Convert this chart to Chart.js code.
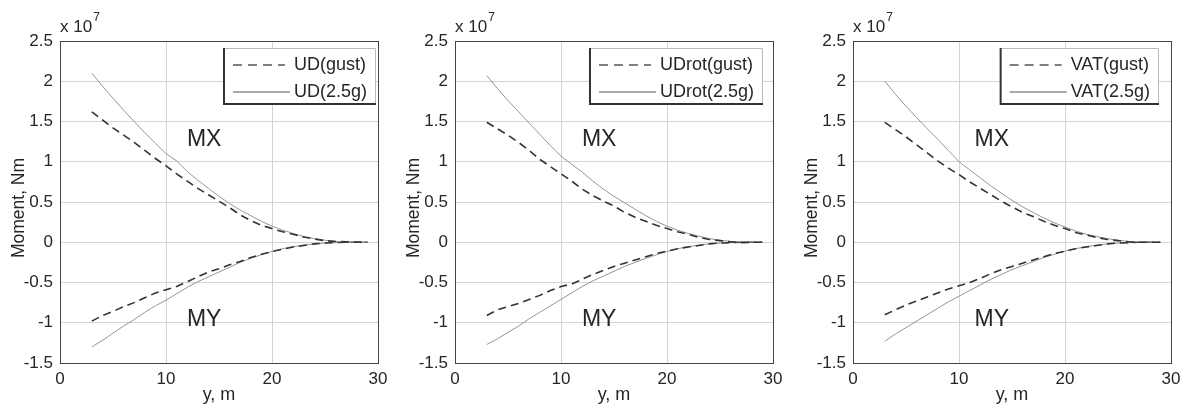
<!DOCTYPE html>
<html>
<head>
<meta charset="utf-8">
<script src="https://cdn.jsdelivr.net/npm/chart.js@4/dist/chart.umd.min.js"></script>
<style>
  html, body { margin: 0; padding: 0; background: #fff; }
  #wrap { position: relative; width: 1187px; height: 411px; overflow: hidden; }
  .panel { position: absolute; top: 0; width: 390px; height: 411px; }
</style>
</head>
<body>
<div id="wrap">
  <div class="panel" style="left:0px"><canvas id="c1"></canvas></div>
  <div class="panel" style="left:395px"><canvas id="c2"></canvas></div>
  <div class="panel" style="left:793px"><canvas id="c3"></canvas></div>
</div>
<script>
/* --- data (moments in units of 1e7 Nm) --- */
const spanY = [3,4,5,6,7,8,9,10,11,12,13,14,15,16,17,18,19,20,21,22,23,24,25,26,27,28,29];
const xTicks = [0, 10, 20, 30];
const yTicks = [-1.5, -1, -0.5, 0, 0.5, 1, 1.5, 2, 2.5];

const udMxGust = [1.62,1.52,1.42,1.33,1.24,1.14,1.04,0.95,0.85,0.76,0.67,0.59,0.51,0.43,0.34,0.27,0.21,0.17,0.13,0.10,0.065,0.04,0.02,0.01,0.005,0.003,0];
const udMx25g  = [2.10,1.94,1.79,1.64,1.50,1.36,1.23,1.10,1.01,0.88,0.77,0.67,0.57,0.48,0.40,0.33,0.26,0.20,0.15,0.11,0.07,0.045,0.025,0.01,0.005,0.002,0];
const udMyGust = [-0.98,-0.91,-0.86,-0.80,-0.75,-0.69,-0.63,-0.59,-0.55,-0.49,-0.43,-0.37,-0.33,-0.28,-0.24,-0.19,-0.15,-0.115,-0.085,-0.06,-0.04,-0.02,-0.01,-0.005,0,0,0];
const udMy25g  = [-1.30,-1.22,-1.13,-1.04,-0.96,-0.87,-0.79,-0.72,-0.64,-0.56,-0.49,-0.43,-0.37,-0.31,-0.25,-0.20,-0.155,-0.115,-0.08,-0.055,-0.035,-0.02,-0.01,-0.005,-0.002,-0.001,0];

const rotMxGust = [1.49,1.41,1.33,1.24,1.14,1.03,0.94,0.85,0.76,0.66,0.58,0.51,0.45,0.37,0.31,0.26,0.21,0.17,0.13,0.10,0.06,0.035,0.02,0.005,-0.005,0,0];
const rotMx25g  = [2.07,1.91,1.76,1.62,1.48,1.34,1.20,1.07,0.97,0.87,0.76,0.66,0.57,0.49,0.41,0.33,0.26,0.20,0.15,0.11,0.075,0.045,0.025,0.01,0.005,0.002,0];
const rotMyGust = [-0.91,-0.84,-0.80,-0.76,-0.71,-0.66,-0.60,-0.55,-0.52,-0.46,-0.40,-0.35,-0.30,-0.26,-0.22,-0.18,-0.14,-0.11,-0.08,-0.06,-0.04,-0.02,-0.01,-0.005,0,0,0];
const rotMy25g  = [-1.27,-1.20,-1.12,-1.04,-0.95,-0.87,-0.79,-0.71,-0.63,-0.55,-0.48,-0.42,-0.36,-0.30,-0.25,-0.20,-0.155,-0.115,-0.08,-0.055,-0.035,-0.02,-0.01,-0.005,-0.002,-0.001,0];

const vatMxGust = [1.49,1.40,1.31,1.21,1.11,1.01,0.92,0.84,0.75,0.67,0.59,0.51,0.44,0.37,0.32,0.26,0.21,0.17,0.12,0.09,0.06,0.035,0.02,0.005,0,0,0];
const vatMx25g  = [2.00,1.84,1.69,1.55,1.41,1.28,1.14,1.00,0.90,0.80,0.70,0.61,0.52,0.44,0.37,0.30,0.24,0.19,0.14,0.10,0.07,0.045,0.025,0.01,0.005,0.002,0];
const vatMyGust = [-0.90,-0.84,-0.78,-0.73,-0.68,-0.63,-0.58,-0.54,-0.50,-0.45,-0.39,-0.34,-0.30,-0.26,-0.22,-0.18,-0.14,-0.11,-0.08,-0.06,-0.04,-0.02,-0.01,-0.005,0,0,0];
const vatMy25g  = [-1.23,-1.14,-1.06,-0.98,-0.90,-0.82,-0.74,-0.67,-0.60,-0.53,-0.46,-0.40,-0.34,-0.29,-0.24,-0.19,-0.15,-0.11,-0.08,-0.055,-0.035,-0.02,-0.01,-0.005,-0.002,-0.001,0];

const FONT = "'Liberation Sans', Arial, sans-serif";
const TXT = '#262626';
const DASH_COL = '#333';
const SOLID_COL = '#959595';

const pts = vals => spanY.map((x, i) => ({x: x, y: vals[i]}));

// box, legend, exponent, y title and MX/MY labels
const decor = {
    id: 'decor',
    afterDraw(chart, args, opts) {
        const ctx = chart.ctx;
        const a = chart.chartArea;
        const xs = chart.scales.x, ys = chart.scales.y;
        ctx.save();

        // axes box
        ctx.strokeStyle = '#444'; ctx.lineWidth = 1;
        ctx.strokeRect(Math.round(a.left) + 0.5, Math.round(a.top) + 0.5, Math.round(a.right - a.left), Math.round(a.bottom - a.top));

        // x 10^7
        ctx.fillStyle = TXT;
        ctx.textBaseline = 'alphabetic'; ctx.textAlign = 'left';
        ctx.font = '17px ' + FONT;
        ctx.fillText('x 10', a.left, 32);
        const w = ctx.measureText('x 10').width;
        ctx.font = '12px ' + FONT;
        ctx.fillText('7', a.left + w + 1, 21);

        // y title
        ctx.save();
        ctx.translate(19, (a.top + a.bottom) / 2 + 6);
        ctx.rotate(-Math.PI / 2);
        ctx.font = '17.5px ' + FONT;
        ctx.textAlign = 'center'; ctx.textBaseline = 'middle';
        ctx.fillText('Moment, Nm', 0, 0);
        ctx.restore();

        // MX / MY
        ctx.font = '23px ' + FONT;
        ctx.textAlign = 'center'; ctx.textBaseline = 'middle';
        ctx.fillText('MX', xs.getPixelForValue(opts.labelX), ys.getPixelForValue(1.27));
        ctx.fillText('MY', xs.getPixelForValue(opts.labelX), ys.getPixelForValue(-0.96));

        // legend
        ctx.font = '18px ' + FONT;
        const tw = Math.max(...opts.legend.map(t => ctx.measureText(t).width));
        const boxR = a.right - opts.legendGap;
        const boxW = 10 + 52 + 9 + tw + 8;
        const boxL = boxR - boxW;
        const boxT = a.top + 7, boxB = a.top + 64;
        ctx.fillStyle = '#fff';
        ctx.fillRect(boxL, boxT, boxW, boxB - boxT);
        ctx.strokeStyle = '#bbb'; ctx.lineWidth = 1;
        ctx.beginPath();
        ctx.moveTo(boxL, boxT + 0.5); ctx.lineTo(boxR + 0.5, boxT + 0.5); ctx.lineTo(boxR + 0.5, boxB);
        ctx.stroke();
        ctx.strokeStyle = '#333'; ctx.lineWidth = 2;
        ctx.beginPath();
        ctx.moveTo(boxL + 1, boxT); ctx.lineTo(boxL + 1, boxB - 1); ctx.lineTo(boxR + 1, boxB - 1);
        ctx.stroke();

        const rows = [boxT + 17, boxT + 44];
        ctx.lineWidth = 1.5;
        ctx.strokeStyle = '#555';
        ctx.setLineDash([9, 6]);
        ctx.beginPath(); ctx.moveTo(boxL + 10, rows[0]); ctx.lineTo(boxL + 62, rows[0]); ctx.stroke();
        ctx.setLineDash([]);
        ctx.lineWidth = 1.2;
        ctx.beginPath(); ctx.moveTo(boxL + 10, rows[1]); ctx.lineTo(boxL + 67, rows[1]); ctx.stroke();
        ctx.fillStyle = TXT;
        ctx.textAlign = 'left'; ctx.textBaseline = 'middle';
        opts.legend.forEach((t, i) => ctx.fillText(t, boxL + 71, rows[i]));
        ctx.restore();
    }
};

function makePanel(id, mxG, mx25, myG, my25, names, legendGap, labelX) {
    const ds = (vals, dashed) => ({
        data: pts(vals),
        showLine: true,
        pointRadius: 0,
        borderColor: dashed ? DASH_COL : SOLID_COL,
        borderWidth: dashed ? 1.6 : 1,
        borderDash: dashed ? [8, 5] : [],
        tension: 0
    });
    new Chart(document.getElementById(id), {
        type: 'scatter',
        data: { datasets: [ds(mxG, true), ds(mx25, false), ds(myG, true), ds(my25, false)] },
        options: {
            responsive: false,
            animation: false,
            devicePixelRatio: 1,
            layout: { padding: { top: 41, right: 12, left: 0, bottom: 0 } },
            plugins: {
                legend: { display: false },
                tooltip: { enabled: false },
                decor: { legend: names, legendGap: legendGap, labelX: labelX }
            },
            scales: {
                x: {
                    type: 'linear', min: 0, max: 30,
                    afterBuildTicks: s => { s.ticks = xTicks.map(v => ({value: v})); },
                    afterFit: s => { s.height = 48; s.paddingLeft = 0; s.paddingRight = 0; },
                    ticks: { color: TXT, font: { family: FONT, size: 17 }, padding: 6, maxRotation: 0 },
                    grid: { color: '#d4d4d4', drawTicks: false },
                    border: { color: '#444' },
                    title: { display: true, text: 'y, m', color: TXT, font: { family: FONT, size: 18 }, padding: { top: 0, bottom: 5 } }
                },
                y: {
                    type: 'linear', min: -1.5, max: 2.5,
                    afterBuildTicks: s => { s.ticks = yTicks.map(v => ({value: v})); },
                    afterFit: s => { s.width = 60; s.paddingTop = 0; s.paddingBottom = 0; },
                    ticks: { color: TXT, font: { family: FONT, size: 17 }, padding: 7, callback: v => String(v) },
                    grid: { color: '#d4d4d4', drawTicks: false },
                    border: { color: '#444' },
                    title: { display: false }
                }
            }
        },
        plugins: [decor]
    });
}

for (const c of ['c1', 'c2', 'c3']) {
    const el = document.getElementById(c);
    el.width = 390; el.height = 411;
}
makePanel('c1', udMxGust, udMx25g, udMyGust, udMy25g, ['UD(gust)', 'UD(2.5g)'], 3, 13.6);
makePanel('c2', rotMxGust, rotMx25g, rotMyGust, rotMy25g, ['UDrot(gust)', 'UDrot(2.5g)'], 11, 13.6);
makePanel('c3', vatMxGust, vatMx25g, vatMyGust, vatMy25g, ['VAT(gust)', 'VAT(2.5g)'], 13, 13.1);
</script>
</body>
</html>
